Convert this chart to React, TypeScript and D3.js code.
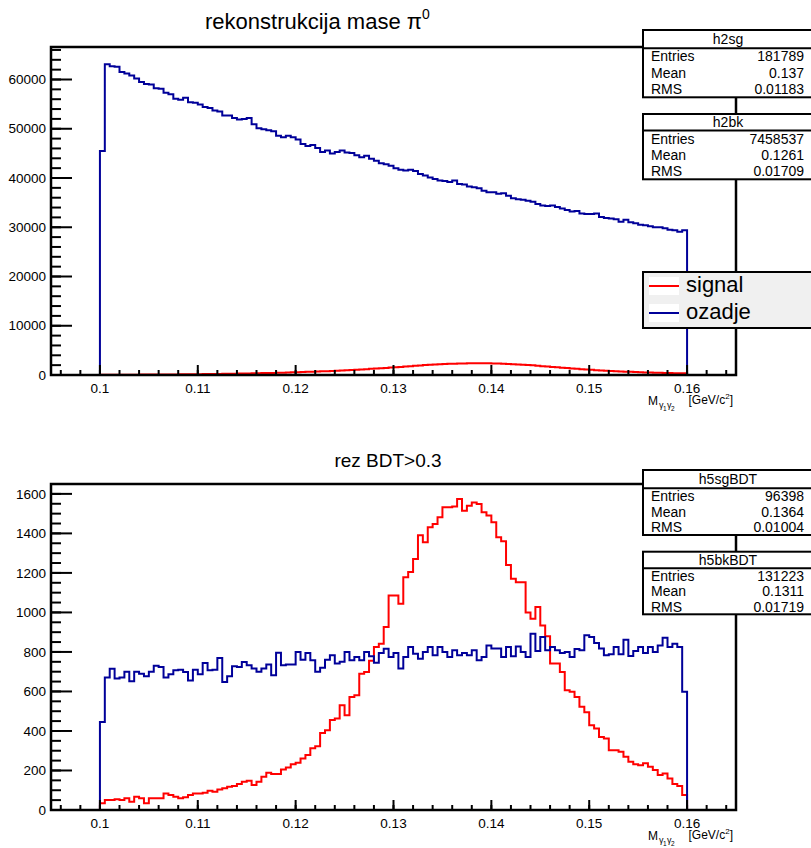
import React from "react";
import * as d3 from "d3";

// ---------- data ----------
const binLow = 0.1;
const binWidth = 0.0005;
const xDomain = [0.095, 0.165];
const xMajorTicks = [0.1, 0.11, 0.12, 0.13, 0.14, 0.15, 0.16];
const xTickLabels = ["0.1", "0.11", "0.12", "0.13", "0.14", "0.15", "0.16"];

const topYTicks = [0, 10000, 20000, 30000, 40000, 50000, 60000];
const topYMax = 66600;
const bottomYTicks = [0, 200, 400, 600, 800, 1000, 1200, 1400, 1600];
const bottomYMax = 1650;

const topTitle = "rekonstrukcija mase π";
const bottomTitle = "rez BDT>0.3";
const legendLabels = ["signal", "ozadje"];

const topSignal = [
  40, 45, 50, 55, 60, 65, 70, 75, 80, 85,
  90, 95, 100, 110, 115, 125, 130, 140, 150, 160,
  170, 180, 195, 205, 220, 235, 250, 265, 285, 300,
  320, 340, 360, 385, 405, 430, 455, 480, 510, 540,
  570, 600, 635, 670, 705, 745, 785, 825, 870, 915,
  960, 1015, 1070, 1130, 1190, 1250, 1315, 1380, 1440, 1500,
  1560, 1640, 1720, 1800, 1875, 1945, 2010, 2070, 2125, 2175,
  2220, 2260, 2295, 2325, 2350, 2365, 2375, 2380, 2375, 2365,
  2345, 2320, 2285, 2245, 2200, 2150, 2090, 2025, 1955, 1880,
  1800, 1720, 1640, 1560, 1480, 1400, 1325, 1250, 1180, 1110,
  1045, 985, 925, 870, 820, 770, 725, 680, 640, 600,
  565, 530, 500, 470, 445, 420, 395, 375, 355, 335,
];

const topBackground = [
  45500, 63100, 62700, 62600, 61500, 61200, 60800, 60200, 59500, 59100,
  59000, 58200, 58100, 57300, 57000, 56100, 55900, 56300, 55400, 55300,
  54900, 54400, 54200, 53700, 53500, 52700, 52700, 52200, 51900, 52000,
  52200, 50900, 50100, 49900, 49700, 49500, 48600, 48300, 48600, 48300,
  47800, 46900, 46500, 46700, 46100, 45300, 45600, 45000, 45300, 45600,
  45200, 45100, 44600, 44200, 44500, 43900, 43500, 43000, 42800, 42500,
  42000, 41700, 41500, 41700, 41400, 40800, 40500, 40100, 39800, 39500,
  39400, 39200, 39500, 38800, 38700, 38300, 38100, 37900, 37400, 37100,
  37100, 36800, 36900, 36400, 35900, 35700, 35600, 35400, 35200, 34700,
  34400, 34300, 34400, 34100, 33800, 33500, 33200, 33300, 32800, 32700,
  32700, 32800, 32100, 31900, 31800, 31600, 31100, 31500, 31000, 30800,
  30500, 30400, 30200, 30000, 30000, 29800, 29500, 29400, 29100, 29400,
];

const bottomSignal = [
  34, 50, 50, 55, 50, 59, 42, 67, 59, 34,
  59, 59, 59, 84, 76, 67, 59, 64, 76, 84,
  84, 87, 98, 93, 104, 110, 118, 121, 131, 143,
  148, 126, 143, 168, 189, 182, 182, 205, 215, 232,
  239, 261, 278, 312, 323, 390, 404, 455, 463, 530,
  480, 572, 581, 690, 699, 755, 825, 842, 926, 1086,
  1086, 1044, 1178, 1205, 1271, 1390, 1355, 1431, 1448, 1482,
  1532, 1532, 1536, 1574, 1515, 1540, 1557, 1549, 1507, 1490,
  1456, 1380, 1360, 1240, 1170, 1153, 1153, 1000, 968, 1027,
  934, 880, 741, 741, 699, 606, 598, 572, 522, 495,
  429, 412, 370, 362, 303, 303, 295, 269, 244, 232,
  227, 236, 219, 202, 177, 185, 160, 131, 121, 76,
];

const bottomBackground = [
  446, 670, 715, 665, 670, 700, 652, 700, 690, 677,
  700, 730, 724, 670, 687, 707, 710, 698, 656, 710,
  687, 744, 707, 710, 769, 648, 677, 727, 724, 749,
  733, 716, 700, 716, 736, 682, 796, 733, 736, 736,
  800, 761, 795, 758, 700, 720, 760, 783, 741, 750,
  800, 758, 775, 758, 800, 778, 745, 795, 816, 774,
  795, 716, 774, 825, 791, 766, 800, 825, 783, 825,
  800, 774, 808, 783, 795, 783, 808, 758, 774, 833,
  817, 817, 774, 825, 778, 828, 800, 774, 892, 805,
  875, 808, 825, 808, 795, 800, 774, 815, 808, 884,
  875, 845, 817, 783, 788, 825, 788, 862, 780, 805,
  825, 795, 825, 800, 833, 872, 825, 842, 825, 598,
];

const statLabels = ["Entries", "Mean", "RMS"];
const topStatNames = ["h2sg", "h2bk"];
const topStatValues = [["181789", "0.137", "0.01183"], ["7458537", "0.1261", "0.01709"]];
const bottomStatNames = ["h5sgBDT", "h5bkBDT"];
const bottomStatValues = [["96398", "0.1364", "0.01004"], ["131223", "0.1311", "0.01719"]];

// ---------- styling ----------
const FONT = "'Liberation Sans', Arial, Helvetica, sans-serif";
const RED = "#ff0000";
const BLUE = "#000099";
const FX0 = 51;
const FX1 = 736;

function histPath(values: number[], x: any, y: any): string {
  const pts: [number, number][] = [[xDomain[0], 0]];
  values.forEach((v, i) => pts.push([binLow + i * binWidth, v]));
  pts.push([binLow + values.length * binWidth, 0]);
  pts.push([xDomain[1], 0]);
  const line = d3
    .line<[number, number]>()
    .x((d) => x(d[0]))
    .y((d) => y(d[1]))
    .curve(d3.curveStepAfter);
  return line(pts) || "";
}

function StatsBox({ y0, ySep, y1, name, values }: any) {
  const rowH = (y1 - ySep) / 3;
  return (
    <g fontFamily={FONT} fontSize={14}>
      <rect x={643} y={y0} width={172} height={y1 - y0} fill="#fff" stroke="#000" strokeWidth={2} />
      <line x1={643} x2={815} y1={ySep} y2={ySep} stroke="#000" strokeWidth={2} />
      <text x={728} y={(y0 + ySep) / 2 + 5} textAnchor="middle">{name}</text>
      {statLabels.map((l, k) => (
        <g key={l}>
          <text x={651} y={ySep + (k + 0.5) * rowH + 5}>{l}</text>
          <text x={804} y={ySep + (k + 0.5) * rowH + 5} textAnchor="end">{values[k]}</text>
        </g>
      ))}
    </g>
  );
}

function Panel({ fy0, fy1, yMax, yTicks, yMinorStep, signal, background }: any) {
  const x = d3.scaleLinear().domain(xDomain).range([FX0, FX1]);
  const y = d3.scaleLinear().domain([0, yMax]).range([fy1, fy0]);
  const xMinor = d3.range(0.096, 0.1649, 0.002);
  const yMinor = d3.range(0, yMax + 1e-9, yMinorStep);
  return (
    <g>
      <path d={histPath(signal, x, y)} fill="none" stroke={RED} strokeWidth={2} />
      <path d={histPath(background, x, y)} fill="none" stroke={BLUE} strokeWidth={2} />
      {/* x ticks */}
      {xMinor.map((t, i) => (
        <line key={"xm" + i} x1={x(t)} x2={x(t)} y1={fy1} y2={fy1 - 5} stroke="#000" strokeWidth={2} />
      ))}
      {xMajorTicks.map((t, i) => (
        <line key={"xM" + i} x1={x(t)} x2={x(t)} y1={fy1} y2={fy1 - 10} stroke="#000" strokeWidth={2} />
      ))}
      {/* y ticks */}
      {yMinor.map((t, i) => (
        <line key={"ym" + i} x1={FX0} x2={FX0 + 10} y1={y(t)} y2={y(t)} stroke="#000" strokeWidth={2} />
      ))}
      {yTicks.map((t: number, i: number) => (
        <line key={"yM" + i} x1={FX0} x2={FX0 + 21} y1={y(t)} y2={y(t)} stroke="#000" strokeWidth={2} />
      ))}
      <rect x={FX0} y={fy0} width={FX1 - FX0} height={fy1 - fy0} fill="none" stroke="#000" strokeWidth={2.5} />
      <g fontFamily={FONT} fontSize={13.5}>
        {yTicks.map((t: number, i: number) => (
          <text key={"yl" + i} x={46} y={y(t)} dy="0.35em" textAnchor="end">{String(t)}</text>
        ))}
        {xMajorTicks.map((t, i) => (
          <text key={"xl" + i} x={x(t)} y={fy1 + 18} textAnchor="middle">{xTickLabels[i]}</text>
        ))}
      </g>
      <g fontFamily={FONT} fill="#000">
        <text x={648} y={fy1 + 30} fontSize={12}>M</text>
        <text x={659} y={fy1 + 33} fontSize={9}>γ</text>
        <text x={663} y={fy1 + 36} fontSize={6.5}>1</text>
        <text x={667} y={fy1 + 33} fontSize={9}>γ</text>
        <text x={671} y={fy1 + 36} fontSize={6.5}>2</text>
        <text x={733} y={fy1 + 29} fontSize={12} textAnchor="end">
          [GeV/c<tspan fontSize={8} dy={-5}>2</tspan><tspan dy={5}>]</tspan>
        </text>
      </g>
    </g>
  );
}

export default function App() {
  return (
    <svg width={811} height={848} style={{ position: "absolute", left: 0, top: 0, background: "#fff" }}>
      <rect x={0} y={0} width={811} height={848} fill="#fff" />
      {/* top panel */}
      <text x={205} y={29} fontFamily={FONT} fontSize={22}>
        {topTitle}
        <tspan fontSize={14} dy={-10}>0</tspan>
      </text>
      <Panel fy0={47} fy1={375} yMax={topYMax} yTicks={topYTicks} yMinorStep={2000}
        signal={topSignal} background={topBackground} />
      <StatsBox y0={30} ySep={48.3} y1={97.3} name={topStatNames[0]} values={topStatValues[0]} />
      <StatsBox y0={114} ySep={130.5} y1={179.3} name={topStatNames[1]} values={topStatValues[1]} />
      {/* legend */}
      <g fontFamily={FONT}>
        <rect x={643} y={272} width={172} height={56} fill="#f0f0f0" stroke="#000" strokeWidth={2} />
        <rect x={649} y={277} width={30} height={18} fill="#fff" />
        <rect x={649} y={304} width={30} height={18} fill="#fff" />
        <line x1={649} x2={679} y1={286} y2={286} stroke={RED} strokeWidth={2} />
        <line x1={649} x2={679} y1={313} y2={313} stroke={BLUE} strokeWidth={2} />
        <text x={686} y={292} fontSize={22}>{legendLabels[0]}</text>
        <text x={686} y={319} fontSize={22}>{legendLabels[1]}</text>
      </g>
      {/* bottom panel */}
      <text x={388} y={467} fontFamily={FONT} fontSize={19} textAnchor="middle">{bottomTitle}</text>
      <Panel fy0={484} fy1={810} yMax={bottomYMax} yTicks={bottomYTicks} yMinorStep={50}
        signal={bottomSignal} background={bottomBackground} />
      <StatsBox y0={470} ySep={488.3} y1={535} name={bottomStatNames[0]} values={bottomStatValues[0]} />
      <StatsBox y0={551.7} ySep={568.3} y1={614.3} name={bottomStatNames[1]} values={bottomStatValues[1]} />
    </svg>
  );
}
